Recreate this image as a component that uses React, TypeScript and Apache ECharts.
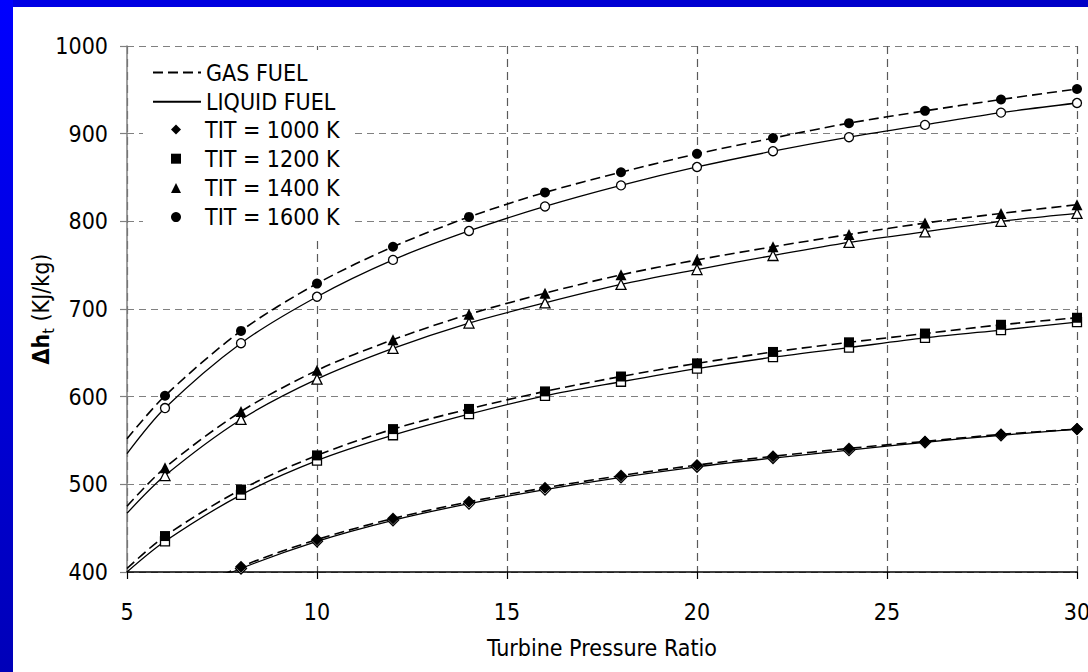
import React, { useEffect, useRef } from "react";
import * as echarts from "echarts";

// ---- data ----
const pressureRatio = [6, 8, 10, 12, 14, 16, 18, 20, 22, 24, 26, 28, 30];
const lineStartRatio = 5;
const fuelLabels = ["GAS FUEL", "LIQUID FUEL"];
const titLabels = ["TIT = 1000 K", "TIT = 1200 K", "TIT = 1400 K", "TIT = 1600 K"];

const gas1000 = [null, 406, 437, 461, 480, 496, 510, 522, 532, 541, 549, 557, 563];
const liquid1000 = [null, 404, 435, 459, 478, 494, 508, 520, 530, 539, 548, 556, 563];
const gas1200 = [441, 494, 533, 563, 586, 606, 623, 638, 651, 662, 672, 682, 690];
const liquid1200 = [435, 488, 527, 556, 580, 601, 617, 632, 645, 656, 667, 676, 685];
const gas1400 = [519, 583, 630, 665, 694, 718, 739, 756, 771, 785, 798, 809, 819];
const liquid1400 = [510, 574, 620, 655, 684, 707, 728, 745, 761, 776, 788, 800, 809];
const gas1600 = [601, 675, 729, 771, 805, 833, 856, 877, 895, 912, 926, 939, 951];
const liquid1600 = [587, 661, 714, 756, 789, 817, 841, 862, 880, 896, 910, 924, 935];

// curve values at pressure ratio 5 (lines start there, no marker)
const gasLineStart = [345, 404, 475, 552];
const liquidLineStart = [348, 400, 467, 535];

const xMin = 5, xMax = 30, xStep = 5;
const yMin = 400, yMax = 1000, yStep = 100;

const FONT = "'Liberation Sans Narrow', 'Arial Narrow', 'DejaVu Sans Condensed', 'Liberation Sans', sans-serif";
const FS = 23;

const gasSets = [gas1000, gas1200, gas1400, gas1600];
const liquidSets = [liquid1000, liquid1200, liquid1400, liquid1600];
const markerSymbols = ["diamond", "rect", "triangle", "circle"];
const markerSizes = [12, 10, 11, 10];

function pairs(vals: (number | null)[]) {
  const out: number[][] = [];
  vals.forEach((v, i) => {
    if (v !== null) out.push([pressureRatio[i], v]);
  });
  return out;
}

export default function App() {
  const ref = useRef<HTMLDivElement>(null);

  useEffect(() => {
    if (!ref.current) return;
    const chart = echarts.init(ref.current, null, { renderer: "svg" });

    const series: any[] = [];
    for (let i = 0; i < 4; i++) {
      series.push({
        type: "line",
        name: fuelLabels[1],
        data: [[lineStartRatio, liquidLineStart[i]], ...pairs(liquidSets[i])],
        symbol: "none",
        showSymbol: false,
        smooth: 0.3,
        lineStyle: { color: "#000", width: 1.3, type: "solid" },
        itemStyle: { color: "#000" },
        z: 2,
        silent: true,
      });
    }
    for (let i = 0; i < 4; i++) {
      series.push({
        type: "line",
        name: fuelLabels[0],
        data: [[lineStartRatio, gasLineStart[i]], ...pairs(gasSets[i])],
        symbol: "none",
        showSymbol: false,
        smooth: 0.3,
        lineStyle: { color: "#000", width: 1.6, type: [10, 5] },
        itemStyle: { color: "#000" },
        z: 2,
        silent: true,
      });
    }
    for (let i = 0; i < 4; i++) {
      series.push({
        type: "scatter",
        name: titLabels[i] + " liquid",
        data: pairs(liquidSets[i]),
        symbol: markerSymbols[i],
        symbolSize: markerSizes[i] - 1,
        itemStyle: { color: "#fff", borderColor: "#000", borderWidth: 1.3, opacity: 1 },
        z: 3,
        silent: true,
      });
    }
    for (let i = 0; i < 4; i++) {
      series.push({
        type: "scatter",
        name: titLabels[i],
        data: pairs(gasSets[i]),
        symbol: markerSymbols[i],
        symbolSize: markerSizes[i],
        itemStyle: { color: "#000", opacity: 1 },
        z: 4,
        silent: true,
      });
    }

    const legendText = { fontFamily: FONT, fontSize: FS, color: "#000", lineHeight: 20 };

    chart.setOption({
      animation: false,
      backgroundColor: "#fff",
      textStyle: { fontFamily: FONT },
      graphic: [
        {
          type: "rect",
          left: 0,
          top: 0,
          shape: { width: 1088, height: 7 },
          style: {
            fill: new echarts.graphic.LinearGradient(0, 0, 1, 0, [
              { offset: 0, color: "#0000e6" },
              { offset: 1, color: "#0000c6" },
            ]),
          },
          z: 10,
        },
        {
          type: "rect",
          left: 0,
          top: 0,
          shape: { width: 13, height: 672 },
          style: {
            fill: new echarts.graphic.LinearGradient(0, 0, 0, 1, [
              { offset: 0, color: "#0000ff" },
              { offset: 1, color: "#0000b8" },
            ]),
          },
          z: 10,
        },
        // white legend box hiding the grid lines behind the legend
        {
          type: "rect",
          left: 143,
          top: 50,
          shape: { width: 209, height: 190 },
          style: { fill: "#fff" },
          z: 1,
          silent: true,
        },
      ],
      grid: { left: 127, right: 11, top: 46, bottom: 100, containLabel: false, outerBoundsMode: "none" },
      legend: [
        {
          orient: "vertical",
          left: 152,
          top: 61,
          padding: 0,
          itemWidth: 48,
          itemHeight: 10,
          itemGap: 6.2,
          selectedMode: false,
          data: fuelLabels.map((n) => ({ name: n, itemStyle: { opacity: 0 } })),
          textStyle: legendText,
        },
        {
          orient: "vertical",
          left: 171,
          top: 118,
          padding: 0,
          itemWidth: 10,
          itemHeight: 10,
          itemGap: 6.2,
          selectedMode: false,
          data: titLabels,
          textStyle: { ...legendText, padding: [0, 0, 0, 19] },
        },
      ],
      xAxis: {
        type: "value",
        min: xMin,
        max: xMax,
        interval: xStep,
        name: "Turbine Pressure Ratio",
        nameLocation: "middle",
        nameGap: 64,
        nameMoveOverlap: false,
        nameTextStyle: { fontFamily: FONT, fontSize: FS, color: "#000" },
        axisLine: { show: true, onZero: false, lineStyle: { color: "#000", width: 1.5 } },
        axisTick: { show: true, length: 7, lineStyle: { color: "#000", width: 1.2 } },
        axisLabel: { fontFamily: FONT, fontSize: FS, color: "#000", margin: 28, formatter: (v: number) => String(v) },
        splitLine: { show: true, lineStyle: { color: "#5a5a5a", width: 1.2, type: [8, 5] } },
      },
      yAxis: {
        type: "value",
        min: yMin,
        max: yMax,
        interval: yStep,
        name: "{b|Δh}{s|t}{n| (KJ/kg)}",
        nameLocation: "middle",
        nameGap: 71,
        nameMoveOverlap: false,
        nameTextStyle: {
          fontFamily: FONT,
          color: "#000",
          rich: {
            b: { fontFamily: FONT, fontSize: FS, fontWeight: "bold", color: "#000", lineHeight: 30, verticalAlign: "middle" },
            s: { fontFamily: FONT, fontSize: 16, color: "#000", lineHeight: 30, verticalAlign: "top", padding: [14, 0, 0, 0] },
            n: { fontFamily: FONT, fontSize: FS, color: "#000", lineHeight: 30, verticalAlign: "middle" },
          },
        },
        axisLine: { show: true, onZero: false, lineStyle: { color: "#808080", width: 1.5 } },
        axisTick: { show: true, length: 7, lineStyle: { color: "#808080", width: 1.2 } },
        axisLabel: { fontFamily: FONT, fontSize: FS, color: "#000", margin: 19, formatter: (v: number) => String(v) },
        splitLine: { show: true, lineStyle: { color: "#808080", width: 1.2, type: [7, 5] } },
      },
      series,
    });

    return () => chart.dispose();
  }, []);

  return (
    <div
      ref={ref}
      style={{ position: "absolute", left: 0, top: 0, width: 1088, height: 672 }}
    />
  );
}
